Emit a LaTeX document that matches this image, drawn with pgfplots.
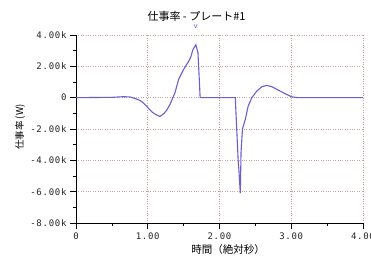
\documentclass[border=0pt]{standalone}
\usepackage{fontspec}
\usepackage{pgfplots}
\pgfplotsset{compat=1.18}
\newfontfamily\cjk{Noto Sans CJK JP}
\newfontfamily\tickfont{DejaVu Sans Mono}[LetterSpace=8]
\definecolor{lineblue}{HTML}{6B5FCF}
\definecolor{gridc}{HTML}{C8A4A0}
\begin{document}
\begin{tikzpicture}[x=1pt,y=1pt]
\path[use as bounding box, fill=white] (0,0) rectangle (371,256);
\begin{axis}[
  at={(76pt,33pt)}, anchor=south west,
  scale only axis, width=287pt, height=188pt,
  xmin=0, xmax=4, ymin=-8, ymax=4,
  axis x line*=bottom, axis y line*=left,
  axis line style={black, line width=0.8pt},
  xtick={0,1,2,3,4}, xticklabels={0,1.00,2.00,3.00,4.00},
  ytick={-8,-6,-4,-2,0,2,4},
  yticklabels={-8.00k,-6.00k,-4.00k,-2.00k,0,2.00k,4.00k},
  minor x tick num=1, minor y tick num=1,
  tick align=outside,
  major tick length=6pt, minor tick length=3pt,
  tick style={black, line width=0.7pt},
  grid=major,
  major grid style={gridc, dotted, line width=0.8pt},
  ticklabel style={font=\tickfont\fontsize{9}{10}\selectfont, text=black!85},
  /pgf/number format/assume math mode=true,
  clip=false,
]
\addplot[lineblue, line width=1.1pt] coordinates {
(0,0) (0.5,0.02) (0.65,0.06) (0.75,0.05) (0.82,-0.05) (0.88,-0.15) (0.93,-0.3)
(0.98,-0.53) (1.03,-0.78) (1.07,-0.95) (1.12,-1.1) (1.17,-1.2) (1.23,-1.0)
(1.27,-0.75) (1.31,-0.43) (1.35,0.0) (1.38,0.32) (1.43,1.16) (1.50,1.8)
(1.57,2.32) (1.60,2.6) (1.63,3.07) (1.67,3.38) (1.70,2.86) (1.72,1.0) (1.73,0)
(2.22,0) (2.24,-2.0) (2.26,-4.0) (2.27,-4.6) (2.29,-6.1) (2.30,-3.5) (2.32,-2.0)
(2.36,-1.38) (2.40,-0.53) (2.45,0) (2.52,0.42) (2.59,0.70) (2.66,0.78)
(2.73,0.70) (2.82,0.48) (2.91,0.27) (3.0,0.06) (3.09,0) (4,0)
};
\node[text=lineblue, font=\tickfont\fontsize{7}{8}\selectfont, inner sep=0pt] at (axis cs:1.67,4.55) {v};
\end{axis}
\node[font=\cjk\fontsize{11}{12}\selectfont, inner sep=0pt] at (196.5,240) {仕事率 - プレート\#1};
\node[font=\cjk\fontsize{10.5}{12}\selectfont, inner sep=0pt] at (228,6) {時間（絶対秒）};
\node[font=\cjk\fontsize{9.5}{11}\selectfont, inner sep=0pt, rotate=90] at (20,129) {仕事率 (W)};
\end{tikzpicture}
\end{document}
